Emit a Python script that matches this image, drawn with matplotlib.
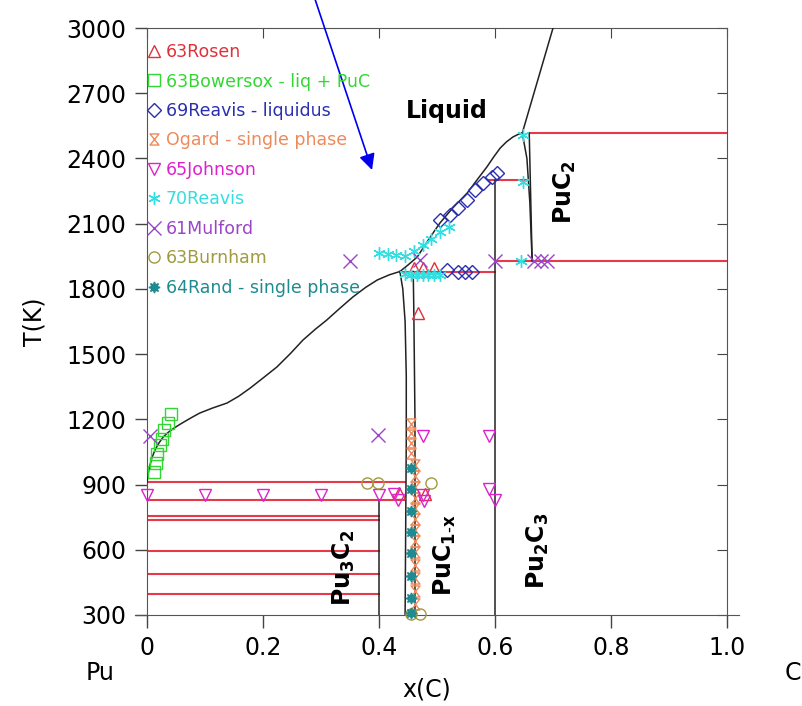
import numpy as np
import matplotlib.pyplot as plt
from matplotlib.path import Path

# phase boundaries (x(C), T in K)
liq_pu_x = [0, 0.003, 0.008, 0.014, 0.021, 0.028, 0.036, 0.045, 0.055, 0.065, 0.078, 0.091, 0.113,
            0.138, 0.158, 0.178, 0.200, 0.224, 0.247, 0.269, 0.290, 0.310, 0.333, 0.355, 0.377,
            0.397, 0.418, 0.436]
liq_pu_T = [910, 965, 1020, 1060, 1093, 1119, 1139, 1157, 1174, 1190, 1210, 1229, 1252,
            1275, 1306, 1344, 1390, 1441, 1502, 1565, 1614, 1657, 1712, 1763, 1807,
            1841, 1865, 1880]
liq_c_x = [0.436, 0.450, 0.466, 0.485, 0.505, 0.528, 0.552, 0.570, 0.586, 0.598, 0.609, 0.620,
           0.631, 0.640, 0.647, 0.70]
liq_c_T = [1880, 1910, 1947, 2025, 2103, 2175, 2241, 2305, 2361, 2408, 2448, 2477,
           2499, 2511, 2517, 3000]
puc_left_x = [0.436, 0.441, 0.445, 0.447, 0.447, 0.446, 0.445]
puc_left_T = [1880, 1800, 1650, 1400, 1100, 700, 300]
puc_right_x = [0.459, 0.460, 0.462, 0.462]
puc_right_T = [1880, 1700, 1200, 300]
puc2_left_x = [0.647, 0.655, 0.660, 0.664]
puc2_left_T = [2517, 2400, 2200, 1930]
puc2_right_x = [0.659, 0.664]
puc2_right_T = [2517, 1930]
pu2c3_x = [0.6, 0.6]
pu2c3_T = [300, 2300]
pu3c2_x = [0.4, 0.4]
pu3c2_T = [300, 830]

# invariant reactions / allotropic transitions
red_T = [910, 830, 756, 736, 593, 488, 398, 1880, 1930, 2300, 2517]
red_x0 = [0, 0, 0, 0, 0, 0, 0, 0.436, 0.6, 0.59, 0.659]
red_x1 = [0.445, 0.445, 0.4, 0.4, 0.4, 0.4, 0.4, 0.6, 1.0, 0.657, 1.0]

# experimental data
rosen_x = [0.435, 0.48, 0.467, 0.46, 0.475, 0.495]
rosen_T = [860, 855, 1690, 1895, 1897, 1897]
bowersox_x = [0.012, 0.015, 0.018, 0.022, 0.026, 0.030, 0.036, 0.042]
bowersox_T = [960, 1000, 1040, 1080, 1110, 1150, 1185, 1225]
reavis69_x = [0.505, 0.522, 0.536, 0.552, 0.566, 0.579, 0.595, 0.603, 0.517, 0.536, 0.548, 0.560]
reavis69_T = [2117, 2140, 2172, 2209, 2255, 2287, 2315, 2333, 1885, 1878, 1878, 1878]
ogard_x = [0.455, 0.455, 0.455, 0.455, 0.462, 0.462, 0.462, 0.462, 0.462, 0.462, 0.462,
           0.462, 0.462, 0.462, 0.462, 0.462, 0.462]
ogard_T = [1180, 1135, 1090, 1045, 990, 940, 890, 840, 790, 740, 690, 640, 590, 530, 470, 410, 350]
johnson_x = [0.0, 0.1, 0.2, 0.3, 0.4, 0.425, 0.432, 0.475, 0.478, 0.475, 0.59, 0.59, 0.6]
johnson_T = [850, 850, 850, 850, 850, 855, 830, 850, 825, 1125, 1125, 880, 830]
reavis70_x = [0.40, 0.415, 0.43, 0.445, 0.46, 0.475, 0.49, 0.505, 0.52,
              0.445, 0.455, 0.465, 0.475, 0.485, 0.495, 0.505, 0.648, 0.648, 0.645]
reavis70_T = [1965, 1960, 1958, 1950, 1975, 2000, 2030, 2060, 2085,
              1870, 1865, 1865, 1865, 1865, 1865, 1865, 2510, 2290, 1930]
mulford_x = [0.005, 0.35, 0.398, 0.47, 0.6, 0.668, 0.68, 0.69]
mulford_T = [1125, 1930, 1130, 1935, 1930, 1930, 1930, 1930]
burnham_x = [0.38, 0.398, 0.49, 0.455, 0.47]
burnham_T = [905, 905, 905, 305, 305]
rand_x = [0.455, 0.455, 0.455, 0.455, 0.455, 0.455, 0.455, 0.455]
rand_T = [975, 880, 780, 680, 585, 480, 380, 310]

hourglass = Path([(-0.8, 1), (0.8, 1), (-0.8, -1), (0.8, -1), (-0.8, 1)],
                 [Path.MOVETO, Path.LINETO, Path.LINETO, Path.LINETO, Path.CLOSEPOLY])

series = [
    (rosen_x, rosen_T, '63Rosen', '#e0303a', '^', 8, False),
    (bowersox_x, bowersox_T, '63Bowersox - liq + PuC', '#33d633', 's', 8, False),
    (reavis69_x, reavis69_T, '69Reavis - liquidus', '#2a2fb0', 'D', 7, False),
    (ogard_x, ogard_T, 'Ogard - single phase', '#ee8a5a', hourglass, 8, False),
    (johnson_x, johnson_T, '65Johnson', '#dd22cc', 'v', 8, False),
    (reavis70_x, reavis70_T, '70Reavis', '#33dde0', (6, 2, 0), 9, False),
    (mulford_x, mulford_T, '61Mulford', '#9a45c8', 'x', 10, False),
    (burnham_x, burnham_T, '63Burnham', '#a09a40', 'o', 8, False),
    (rand_x, rand_T, '64Rand - single phase', '#1f8a8f', (8, 1, 0), 8, True),
]

fig = plt.figure(figsize=(8.02, 7.06), dpi=100)
ax = fig.add_axes([0.1833, 0.1289, 0.7232, 0.8314])

red = '#e63a4a'
for T, x0, x1 in zip(red_T, red_x0, red_x1):
    ax.plot([x0, x1], [T, T], color=red, lw=1.5, zorder=2)

for xs, Ts in [(liq_pu_x, liq_pu_T), (liq_c_x, liq_c_T), (puc_left_x, puc_left_T),
               (puc_right_x, puc_right_T), (puc2_left_x, puc2_left_T),
               (puc2_right_x, puc2_right_T), (pu2c3_x, pu2c3_T), (pu3c2_x, pu3c2_T)]:
    ax.plot(xs, Ts, color='#222222', lw=1.1, zorder=3)

handles = []
for xs, Ts, lab, col, mk, ms, filled in series:
    h, = ax.plot(xs, Ts, ls='none', marker=mk, ms=ms, mew=1.0, mec=col,
                 mfc=col if filled else 'none', label=lab, zorder=4, clip_on=False)
    handles.append(h)

leg = ax.legend(handles=handles, loc='upper left', bbox_to_anchor=(-0.02, 0.995),
                frameon=False, fontsize=12.5, handlelength=0.7, handletextpad=0.35,
                labelspacing=0.66, borderpad=0.2, labelcolor='markeredgecolor')

bold = dict(fontsize=17, fontweight='bold', ha='center', va='center')
ax.text(0.517, 2618, 'Liquid', **bold)
ax.text(0.721, 2246, r'PuC$_\mathbf{2}$', rotation=90, **bold)
ax.text(0.340, 516, r'Pu$_\mathbf{3}$C$_\mathbf{2}$', rotation=90, **bold)
ax.text(0.514, 576, r'PuC$_{\mathbf{1\text{-}x}}$', rotation=90, **bold)
ax.text(0.674, 594, r'Pu$_\mathbf{2}$C$_\mathbf{3}$', rotation=90, **bold)

ax.annotate('', xy=(0.388, 2347), xytext=(0.29, 3130), annotation_clip=False,
            arrowprops=dict(arrowstyle='-|>', color='#0000ee', lw=1.2,
                            mutation_scale=24, shrinkA=0, shrinkB=0))

ax.set_xlim(0, 1.0)
ax.set_ylim(300, 3000)
ax.set_xticks([0, 0.2, 0.4, 0.6, 0.8, 1.0])
ax.set_xticklabels(['0', '0.2', '0.4', '0.6', '0.8', '1.0'])
ax.set_yticks(np.arange(300, 3001, 300))
ax.tick_params(direction='out', length=9, width=1, labelsize=17, pad=6, color='#444444')
for s in ax.spines.values():
    s.set_color('#555555')
ax.spines['bottom'].set_bounds(-0.02, 1.02)

sec_x = ax.secondary_xaxis('top')
sec_x.set_xticks([0, 0.2, 0.4, 0.6, 0.8, 1.0])
sec_x.tick_params(direction='in', length=7, labeltop=False, color='#444444')
sec_y = ax.secondary_yaxis('right')
sec_y.set_yticks(np.arange(300, 3001, 300))
sec_y.tick_params(direction='in', length=7, labelright=False, color='#444444')
for a in (sec_x, sec_y):
    for s in a.spines.values():
        s.set_visible(False)

ax.set_ylabel('T(K)', fontsize=17, labelpad=14)
fig.text(427 / 802, 1 - 690 / 706, 'x(C)', fontsize=17, ha='center', va='center')
fig.text(100 / 802, 1 - 673 / 706, 'Pu', fontsize=17, ha='center', va='center')
fig.text(793 / 802, 1 - 673 / 706, 'C', fontsize=17, ha='center', va='center')

fig.savefig('out.png', dpi=100)
